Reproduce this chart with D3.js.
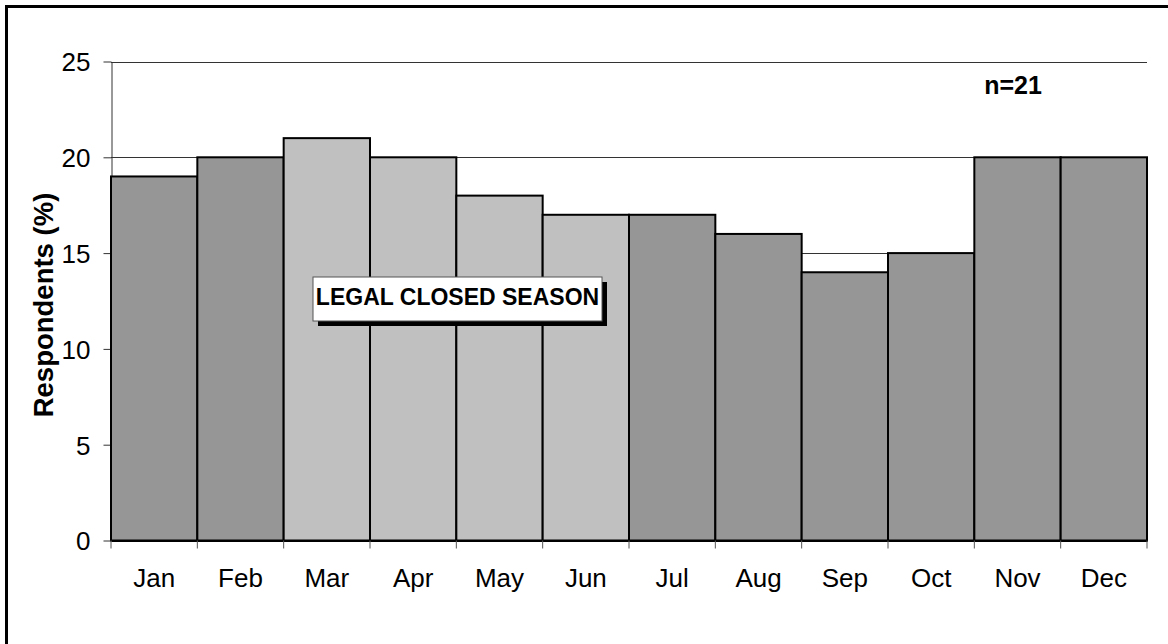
<!DOCTYPE html>
<html><head><meta charset="utf-8">
<script src="https://cdn.jsdelivr.net/npm/d3@7"></script>
<style>body{margin:0;background:#fff}svg{display:block}text{font-family:Arial,"Liberation Sans",sans-serif}</style>
</head><body><svg id="c" width="1168" height="644"></svg>
<script>
const months = ["Jan","Feb","Mar","Apr","May","Jun","Jul","Aug","Sep","Oct","Nov","Dec"];
const values = [19,20,21,20,18,17,17,16,14,15,20,20];
const closedSeason = ["Mar","Apr","May","Jun"];
const yTicks = [0,5,10,15,20,25];
const yLabel = "Respondents (%)";
const boxLabel = "LEGAL CLOSED SEASON";
const nLabel = "n=21";

const svg = d3.select("#c");
const m = {l:111, r:1147, t:61.5, b:540.5};
// outer frame (only top and left visible)
svg.append("path").attr("d","M6.5,644 L6.5,6.5 L1168,6.5").attr("fill","none")
  .attr("stroke","#000").attr("stroke-width",3);

const x = d3.scaleBand().domain(months).range([m.l,m.r]).padding(0);
const y = d3.scaleLinear().domain([0,25]).range([m.b,m.t]);

// gridlines
svg.append("g").selectAll("line").data(yTicks.filter(d=>d>0)).join("line")
  .attr("x1",m.l).attr("x2",m.r).attr("y1",d=>Math.round(y(d))+0.5).attr("y2",d=>Math.round(y(d))+0.5)
  .attr("stroke","#333").attr("stroke-width",1);

// y axis
const ya = svg.append("g").attr("transform",`translate(${m.l+0.5},0)`)
  .call(d3.axisLeft(y).tickValues(yTicks).tickSize(8).tickSizeOuter(0));
ya.select(".domain").attr("stroke","#333");
ya.selectAll(".tick line").attr("stroke","#333");
ya.selectAll(".tick text").attr("font-size",26).attr("font-family","Arial, 'Liberation Sans', sans-serif")
  .attr("fill","#000").attr("x",-21).attr("dy","0.36em");

// bars
svg.append("g").selectAll("rect").data(months).join("rect")
  .attr("x",d=>x(d)).attr("width",x.bandwidth())
  .attr("y",(d,i)=>y(values[i])).attr("height",(d,i)=>y(0)-y(values[i]))
  .attr("fill",d=>closedSeason.includes(d)?"#c0c0c0":"#969696")
  .attr("stroke","#000").attr("stroke-width",2);

// x axis
const xa = svg.append("g").attr("transform",`translate(0,${m.b})`)
  .call(d3.axisBottom(x).tickSize(0).tickSizeOuter(0));
xa.select(".domain").attr("stroke","#000").attr("stroke-width",2);
xa.selectAll(".tick text").attr("font-size",26).attr("font-family","Arial, 'Liberation Sans', sans-serif")
  .attr("fill","#000").attr("y",46).attr("dy",0);
// tick marks at band boundaries
svg.append("g").selectAll("line").data(months.concat(["end"])).join("line")
  .attr("x1",d=>d==="end"?m.r:x(d)).attr("x2",d=>d==="end"?m.r:x(d))
  .attr("y1",m.b).attr("y2",m.b+8).attr("stroke","#555").attr("stroke-width",1);

// y title
svg.append("text").attr("transform",`translate(53,${305}) rotate(-90)`)
  .attr("text-anchor","middle").attr("font-size",27.5).attr("font-weight","bold").text(yLabel);

// n label
svg.append("text").attr("x",1013).attr("y",94).attr("text-anchor","middle")
  .attr("font-size",25).attr("font-weight","bold").text(nLabel);

// closed season box
const bx = 313, by = 277, bw = 289, bh = 44;
svg.append("rect").attr("x",bx+5).attr("y",by+5).attr("width",bw).attr("height",bh).attr("fill","#000");
svg.append("rect").attr("x",bx).attr("y",by).attr("width",bw).attr("height",bh)
  .attr("fill","#fff").attr("stroke","#555").attr("stroke-width",1);
svg.append("text").attr("x",bx+bw/2).attr("y",by+28).attr("text-anchor","middle")
  .attr("font-size",23).attr("font-weight","bold").text(boxLabel);
</script></body></html>
